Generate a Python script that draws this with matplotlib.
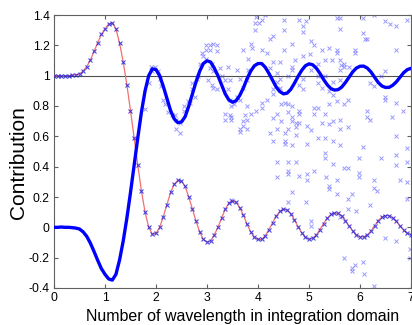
import numpy as np
import matplotlib
matplotlib.use("Agg")
import matplotlib.pyplot as plt

plt.rcParams['font.family'] = ['Liberation Sans', 'DejaVu Sans']

# sample positions (number of wavelengths)
x_grid = [i / 14 for i in range(99)]

# red curve (contribution of one part)
red_vals = [
    1.000, 1.000, 0.998, 1.000, 1.000, 1.002, 1.005, 1.011, 1.030, 1.060,
    1.105, 1.160, 1.218, 1.272, 1.310, 1.340, 1.348, 1.310, 1.215, 1.090,
    0.940, 0.770, 0.590, 0.410, 0.240, 0.100, 0.000, -0.045, -0.040, 0.000,
    0.070, 0.150, 0.230, 0.285, 0.310, 0.305, 0.270, 0.200, 0.120, 0.040,
    -0.030, -0.080, -0.098, -0.090, -0.050, 0.000, 0.060, 0.120, 0.160, 0.175,
    0.165, 0.130, 0.080, 0.020, -0.030, -0.065, -0.080, -0.080, -0.055, -0.015,
    0.030, 0.075, 0.105, 0.120, 0.115, 0.090, 0.050, 0.005, -0.035, -0.065,
    -0.078, -0.072, -0.050, -0.015, 0.025, 0.060, 0.085, 0.095, 0.092, 0.075,
    0.045, 0.010, -0.025, -0.050, -0.062, -0.063, -0.050, -0.025, 0.010, 0.045,
    0.068, 0.078, 0.077, 0.063, 0.040, 0.010, -0.020, -0.040, -0.048,
]

# blue curve (the complementary contribution)
blue_vals = [
    0.000, 0.000, 0.002, 0.000, 0.000, -0.002, -0.005, -0.011, -0.030, -0.060,
    -0.105, -0.160, -0.218, -0.272, -0.310, -0.340, -0.348, -0.310, -0.215, -0.090,
    0.060, 0.230, 0.410, 0.590, 0.760, 0.900, 1.000, 1.045, 1.040, 1.000,
    0.930, 0.850, 0.770, 0.715, 0.690, 0.695, 0.730, 0.800, 0.880, 0.960,
    1.030, 1.080, 1.098, 1.090, 1.050, 1.000, 0.940, 0.880, 0.840, 0.825,
    0.835, 0.870, 0.920, 0.980, 1.030, 1.065, 1.080, 1.080, 1.055, 1.015,
    0.970, 0.925, 0.895, 0.880, 0.885, 0.910, 0.950, 0.995, 1.035, 1.065,
    1.078, 1.072, 1.050, 1.015, 0.975, 0.940, 0.915, 0.905, 0.908, 0.925,
    0.955, 0.990, 1.025, 1.050, 1.062, 1.063, 1.050, 1.025, 0.990, 0.955,
    0.932, 0.922, 0.923, 0.937, 0.960, 0.990, 1.020, 1.040, 1.048,
]

# noisy samples (scattered crosses)
scatter_x = [
    # x 4.2 .. 7, y 0.2 .. 0.84
    4.45, 4.52, 4.59, 4.67, 5.10, 5.18, 5.40, 5.54, 5.69, 5.76, 6.49, 6.71,
    4.38, 4.59, 4.81, 4.81, 5.10, 5.32, 6.13, 6.13, 6.63, 6.85,
    4.30, 4.45, 4.67, 4.67, 4.75, 4.75, 4.81, 4.96, 5.03, 5.26, 5.40, 5.48,
    5.61, 5.61, 5.76, 6.20, 4.24, 4.38, 4.52, 4.59, 4.75, 5.18, 5.32, 5.48,
    5.61, 6.05, 6.71, 6.93, 4.30, 4.52, 4.52, 4.67, 4.96, 5.32, 5.32, 5.98,
    6.42, 6.71, 4.38, 4.59, 4.75, 5.48, 5.69, 5.76, 6.71, 6.93, 4.59, 4.59,
    4.81, 4.96, 5.10, 5.33, 5.54, 5.98, 5.98, 6.27, 6.78, 6.93, 4.38, 4.96,
    5.40, 5.40, 6.27, 6.34, 4.67, 5.54, 5.84, 5.76, 6.93,
    # x 1.9 .. 4.2, upper part
    1.90, 1.98, 2.03, 2.14, 2.18, 2.24, 2.31, 2.37, 2.54, 2.55, 2.63, 2.67,
    2.70, 2.70, 2.77, 2.80, 2.83, 2.86, 2.90, 2.92, 2.98, 3.06, 3.12, 3.20,
    3.20, 3.06, 2.98, 2.99, 3.09, 3.06, 3.12, 3.01, 3.09, 3.12, 3.20, 3.26,
    3.29, 3.35, 3.41, 3.45, 3.42, 3.45, 3.48, 3.52, 3.58, 3.58, 3.65, 3.65,
    3.71, 3.78, 3.81, 3.71, 3.80, 3.86, 3.88, 3.94, 3.94, 4.01, 3.97, 4.07,
    4.14, 4.17, 4.07, 4.17, 4.07, 4.07, 3.97, 3.78, 3.86, 3.75, 3.45, 3.35,
    3.48,
    # x 4.2 .. 7, upper part
    4.51, 4.51, 4.81, 4.89, 4.88, 4.94, 5.54, 5.61, 5.61, 6.05, 6.27, 6.49,
    6.58, 6.71, 6.93, 4.30, 4.24, 4.66, 5.03, 5.10, 4.51, 5.25, 5.40, 5.54,
    5.54, 5.90, 5.90, 6.71, 4.30, 4.44, 4.66, 4.73, 4.89, 5.02, 5.18, 5.31,
    5.46, 5.61, 5.62, 5.69, 5.69, 5.79, 5.61, 6.10, 6.05, 6.13, 6.49, 4.38,
    4.24, 4.44, 4.59, 4.66, 4.89, 4.81, 4.89, 5.03, 5.18, 5.18, 5.31, 5.25,
    5.40, 5.48, 5.61, 5.48, 6.20, 6.27, 6.41, 6.49, 4.30, 4.30, 4.38, 4.43,
    # x 2.4 .. 3.8, middle part
    2.40, 2.47, 2.47, 2.40, 3.35, 3.48, 3.71, 3.78, 3.65, 3.71, 3.78, 3.65,
    3.48,
    # lower right
    6.20, 4.59, 4.95, 5.03, 5.03, 5.77, 5.92, 5.61, 6.49, 6.71, 5.69, 5.84,
    5.84, 5.90, 6.05, 6.07, 6.27, 6.98, 6.98,
    # along the steep rise
    1.79, 1.86, 1.93, 2.07, 2.10,
]
scatter_y = [
    0.81, 0.82, 0.81, 0.80, 0.79, 0.79, 0.81, 0.83, 0.81, 0.84, 0.84, 0.82,
    0.75, 0.76, 0.77, 0.75, 0.75, 0.75, 0.77, 0.73, 0.73, 0.77,
    0.72, 0.70, 0.73, 0.70, 0.69, 0.66, 0.69, 0.67, 0.64, 0.69, 0.68, 0.70,
    0.71, 0.65, 0.66, 0.71, 0.62, 0.65, 0.62, 0.65, 0.61, 0.59, 0.59, 0.57,
    0.54, 0.53, 0.60, 0.52, 0.57, 0.57, 0.55, 0.54, 0.55, 0.49, 0.46, 0.46,
    0.46, 0.48, 0.43, 0.43, 0.43, 0.42, 0.39, 0.39, 0.41, 0.43, 0.37, 0.35,
    0.34, 0.35, 0.37, 0.33, 0.31, 0.36, 0.33, 0.31, 0.31, 0.30, 0.33, 0.31,
    0.27, 0.25, 0.26, 0.24, 0.23, 0.22, 0.22, 0.19, 0.19,
    1.06, 1.06, 1.03, 0.84, 0.81, 0.76, 0.74, 0.74, 0.80, 0.77, 0.83, 0.82,
    0.91, 0.95, 0.86, 0.98, 1.00, 1.08, 1.15, 1.13, 1.20, 1.20, 1.21, 1.20,
    1.16, 1.17, 1.17, 1.11, 1.08, 1.05, 1.03, 0.97, 0.94, 0.92, 0.91, 1.05,
    1.00, 0.97, 1.06, 0.97, 0.91, 0.84, 0.80, 0.81, 0.86, 1.04, 0.98, 0.84,
    0.92, 0.97, 1.04, 1.17, 1.11, 1.21, 1.18, 1.30, 1.35, 1.35, 1.39, 1.37,
    1.40, 1.15, 1.17, 0.84, 0.82, 0.79, 0.77, 0.80, 0.75, 0.74, 0.74, 0.75,
    0.73,
    1.37, 1.30, 1.37, 1.33, 1.29, 1.36, 1.38, 1.38, 1.31, 1.38, 1.40, 1.36,
    1.34, 1.33, 1.37, 1.26, 1.24, 1.21, 1.23, 1.20, 1.17, 1.17, 1.18, 1.17,
    1.15, 1.17, 1.15, 1.17, 1.09, 1.09, 1.06, 1.10, 1.13, 1.14, 1.08, 1.10,
    1.10, 1.10, 1.07, 1.08, 1.06, 1.06, 1.04, 1.24, 1.28, 1.24, 1.03, 1.02,
    1.05, 0.98, 1.00, 1.04, 0.98, 0.94, 0.91, 1.04, 1.00, 0.95, 1.00, 0.92,
    0.90, 0.87, 0.97, 0.96, 0.95, 0.93, 1.00, 0.86, 0.91, 0.88, 0.96, 0.92,
    0.65, 0.62, 0.69, 0.71, 0.71, 0.71, 0.70, 0.71, 0.65, 0.67, 0.65, 0.63,
    0.18,
    0.15, 0.17, 0.17, 0.04, 0.01, 0.12, 0.11, 0.07, -0.07, -0.09, -0.20, -0.27,
    -0.29, -0.25, -0.23, -0.31, -0.39, -0.20, -0.14,
    0.78, 0.95, 1.03, 0.98, 0.93,
]

x_ticks = [0, 1, 2, 3, 4, 5, 6, 7]
y_ticks = [-0.4, -0.2, 0, 0.2, 0.4, 0.6, 0.8, 1, 1.2, 1.4]
y_tick_labels = ['-0.4', '-0.2', '0', '0.2', '0.4', '0.6', '0.8', '1', '1.2', '1.4']

fig = plt.figure(figsize=(4.12, 3.25), dpi=100)
ax = fig.add_axes([54 / 412, 37 / 325, 357 / 412, 273 / 325])

ax.axhline(1.0, color='#505050', lw=0.8, zorder=1)
ax.plot(scatter_x, scatter_y, linestyle='none', marker='x', ms=3, mew=0.7,
        color='#4848ff', alpha=0.55, zorder=2)
ax.plot(x_grid, red_vals, color='#f07070', lw=0.9, zorder=3)
ax.plot(x_grid, red_vals, linestyle='none', marker='x', ms=3, mew=0.8,
        color='#2020e0', alpha=0.8, zorder=4)
ax.plot(x_grid, blue_vals, color='#0000ff', lw=2.4, zorder=5)

ax.set_xlim(0, 7)
ax.set_ylim(-0.4, 1.4)
ax.set_xticks(x_ticks)
ax.set_yticks(y_ticks)
ax.set_yticklabels(y_tick_labels)
ax.tick_params(direction='in', length=3, width=0.8, color='#606060',
               top=True, right=True, labelsize=8.7, pad=3)
for s in ax.spines.values():
    s.set_color('#606060')
    s.set_linewidth(0.8)

ax.set_xlabel('Number of wavelength in integration domain', fontsize=11.5)
ax.set_ylabel('Contribution', fontsize=15)
ax.xaxis.set_label_coords(0.528, -0.077)
ax.yaxis.set_label_coords(-0.073, 0.458)

fig.savefig('out.png', dpi=100)
